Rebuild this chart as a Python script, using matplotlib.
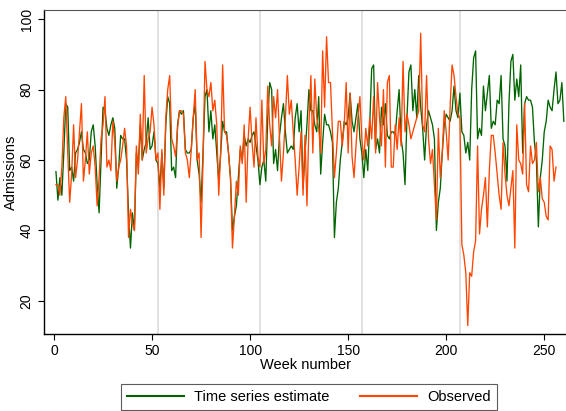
import matplotlib.pyplot as plt

plt.rcParams['font.family'] = ['Liberation Sans', 'DejaVu Sans']

# weekly admissions
estimate = [56.7, 48.6, 55, 50, 62, 76, 75, 57, 58, 54, 62, 63, 65, 68, 63, 62, 59, 60, 68, 70,
            64, 53, 45, 60, 75, 74, 69, 67, 70, 72, 69, 52, 58, 67, 66, 66, 60, 45,
            35, 45, 40, 62, 58, 70, 60, 63, 65, 72, 63, 64, 68, 60, 59, 52, 62, 52, 70, 78,
            76, 57, 58, 55, 70, 74, 73, 74, 63, 62, 62, 63, 72, 76, 60, 56, 48, 62, 78, 80,
            68, 74, 66, 70,
            62, 54, 62, 71, 68, 68, 62, 55, 40, 44, 47, 55, 63, 60, 67, 64, 66, 65, 67, 68,
            64, 60, 53, 58, 60, 54, 72, 82, 80, 59, 63, 57, 67, 72, 76, 68, 62, 63, 64, 63,
            72, 76, 68,
            74, 52, 62, 70, 80, 74, 74, 70, 68, 78, 56, 65, 73, 70, 70, 68, 65, 38, 48, 52,
            60, 65, 71, 70, 72, 79, 71, 68, 72, 76, 66, 62, 55, 63, 57, 70, 86, 87, 63, 66,
            62, 75, 70,
            76, 67, 66, 68, 68, 67, 74, 80, 66, 62, 53, 72, 85, 87, 74, 80, 72, 84, 75, 69,
            60, 70, 74, 72, 70, 66, 40, 48, 52, 62, 70, 73, 72, 71, 74, 81, 74, 72, 79, 68,
            67, 62, 65,
            60, 80, 89, 91, 66, 69, 67, 81, 74, 79, 84, 69, 71, 70, 77, 76, 84, 66, 64, 54,
            76, 88, 90, 77, 83, 78, 87, 62, 76, 78, 77, 77, 75, 65, 60, 41, 55, 60, 68, 71,
            77, 75, 74, 80, 85, 76, 77, 82, 71]

observed = [53, 53, 50, 58, 72, 78, 62, 48, 56, 70, 55, 60, 68, 76, 54, 60, 68, 56, 62, 64,
            58, 47, 55, 66, 70, 78, 58, 60, 57, 71, 65, 54, 58, 60, 64, 69, 64, 38,
            46, 42, 40, 64, 56, 73, 60, 84, 62, 66, 68, 75, 70, 60, 62, 46, 63, 50, 72, 80,
            84, 66, 64, 61, 69, 74, 74, 73, 62, 60, 55, 63, 72, 80, 60, 62, 38, 60, 88, 80,
            78, 82, 74, 77,
            70, 50, 62, 87, 68, 67, 62, 55, 35, 44, 54, 50, 64, 59, 70, 48, 66, 75, 65, 58,
            72, 61, 58, 77, 59, 63, 81, 70, 64, 78, 72, 80, 66, 54, 62, 72, 84, 73, 77, 68,
            60, 50, 58,
            68, 50, 67, 47, 70, 84, 62, 83, 72, 69, 62, 91, 75, 95, 82, 82, 68, 55, 62, 71,
            71, 64, 70, 82, 62, 79, 61, 55, 64, 72, 78, 66, 60, 69, 64, 72, 66, 78, 62, 82,
            72, 64, 80,
            58, 82, 84, 58, 58, 70, 63, 72, 64, 88, 68, 73, 70, 66, 68, 70, 72, 74, 96, 70,
            68, 84, 66, 59, 63, 53, 43, 69, 55, 62, 74, 68, 60, 75, 87, 84, 78, 73, 72, 36,
            33, 28, 13,
            28, 27, 34, 37, 64, 39, 46, 50, 55, 41, 57, 67, 67, 62, 56, 50, 46, 65, 56, 50,
            47, 52, 57, 35, 70, 60, 59, 56, 76, 53, 51, 64, 59, 60, 65, 51, 55, 49, 48, 44,
            43, 64, 63, 54, 58]

weeks_est = list(range(1, len(estimate) + 1))
weeks_obs = list(range(1, len(observed) + 1))
year_breaks = [53, 105, 157, 207]

fig = plt.figure(figsize=(5.66, 4.11), dpi=100)
ax = fig.add_axes([44/566, 1 - 334/411, 1 - 44/566, 324/411])

for b in year_breaks:
    ax.axvline(b, color='#d9d9d9', lw=1.1, zorder=1)

ax.plot(weeks_est, estimate, color='#006400', lw=0.95, label='Time series estimate', zorder=2)
ax.plot(weeks_obs, observed, color='#ff4500', lw=0.95, label='Observed', zorder=3)

ax.set_xlim(-5.1, 261.1)
ax.set_ylim(10.6, 102.6)
ax.set_xticks([0, 50, 100, 150, 200, 250])
ax.set_yticks([20, 40, 60, 80, 100])
ax.set_yticklabels(['20', '40', '60', '80', '100'], rotation=90, va='center')
ax.tick_params(direction='out', length=4, width=0.8, labelsize=10, colors='black')

ax.spines['right'].set_visible(False)
ax.spines['top'].set_color('#555555')
ax.spines['left'].set_linewidth(1.0)
ax.spines['bottom'].set_linewidth(1.0)

ax.set_xlabel('Week number', fontsize=10.5, labelpad=0)
ax.set_ylabel('Admissions', fontsize=10.5, labelpad=1)

handles, labels = ax.get_legend_handles_labels()
leg = fig.legend(handles, labels, loc='upper center', bbox_to_anchor=(309/566, 1 - 384/411),
                 ncol=2, frameon=True, fancybox=False, edgecolor='#333333', fontsize=10.5,
                 handlelength=3.9, handletextpad=0.7, columnspacing=2.1, borderpad=0.4,
                 borderaxespad=0)
leg.get_frame().set_linewidth(0.8)
for line in leg.get_lines():
    line.set_linewidth(1.5)

fig.savefig('out.png', dpi=100)
